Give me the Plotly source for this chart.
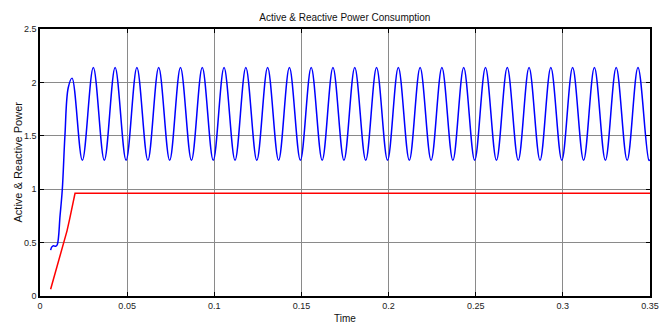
import plotly.graph_objects as go

# Active power (blue) sampled at read points: start-up, then peaks/troughs
active_t = [0.0061, 0.0068, 0.0078, 0.0090, 0.0099, 0.0115, 0.0128, 0.0143, 0.0162, 0.0184,
            0.0243, 0.0306, 0.0369, 0.0431, 0.0494, 0.0556, 0.0619, 0.0681, 0.0744, 0.0806,
            0.0869, 0.0931, 0.0994, 0.1056, 0.1119, 0.1181, 0.1244, 0.1306, 0.1369, 0.1431,
            0.1494, 0.1556, 0.1619, 0.1681, 0.1744, 0.1806, 0.1869, 0.1931, 0.1994, 0.2056,
            0.2119, 0.2181, 0.2244, 0.2306, 0.2369, 0.2431, 0.2494, 0.2556, 0.2619, 0.2681,
            0.2744, 0.2806, 0.2869, 0.2931, 0.2994, 0.3056, 0.3119, 0.3181, 0.3244, 0.3306,
            0.3369, 0.3431, 0.3494, 0.3500]
active_v = [0.43, 0.46, 0.47, 0.465, 0.48, 0.75, 1.00, 1.50, 1.95, 2.04,
            1.27, 2.14, 1.27, 2.14, 1.27, 2.14, 1.27, 2.14, 1.27, 2.14,
            1.27, 2.14, 1.27, 2.14, 1.27, 2.14, 1.27, 2.14, 1.27, 2.14,
            1.27, 2.14, 1.27, 2.14, 1.27, 2.14, 1.27, 2.14, 1.27, 2.14,
            1.27, 2.14, 1.27, 2.14, 1.27, 2.14, 1.27, 2.14, 1.27, 2.14,
            1.27, 2.14, 1.27, 2.14, 1.27, 2.14, 1.27, 2.14, 1.27, 2.14,
            1.27, 2.14, 1.27, 1.275]

# Reactive power (red)
reactive_t = [0.0061, 0.0080, 0.0100, 0.0120, 0.0138, 0.0155, 0.0170, 0.0186, 0.0201, 0.3500]
reactive_v = [0.063, 0.17, 0.28, 0.39, 0.50, 0.61, 0.72, 0.84, 0.962, 0.962]

x_ticks = [0, 0.05, 0.1, 0.15, 0.2, 0.25, 0.3, 0.35]
x_tick_labels = ["0", "0.05", "0.1", "0.15", "0.2", "0.25", "0.3", "0.35"]
y_ticks = [0, 0.5, 1, 1.5, 2, 2.5]
y_tick_labels = ["0", "0.5", "1", "1.5", "2", "2.5"]

fig = go.Figure()
fig.add_trace(go.Scatter(x=active_t, y=active_v, mode="lines",
                         line=dict(color="#0000FF", width=1.5, shape="spline", smoothing=1.0),
                         showlegend=False))
fig.add_trace(go.Scatter(x=reactive_t, y=reactive_v, mode="lines",
                         line=dict(color="#FF0000", width=1.5),
                         showlegend=False))

narrow = "Liberation Sans Narrow, Arial Narrow, Liberation Sans, Arial"
axis_common = dict(showline=True, linecolor="black", linewidth=1.5, mirror="ticks",
                   ticks="inside", ticklen=4, tickcolor="black", tickwidth=1,
                   showgrid=True, gridcolor="#8a8a8a", gridwidth=1, zeroline=False,
                   automargin=False,
                   tickfont=dict(family=narrow, size=9, color="#222"))

fig.update_layout(
    width=667, height=324,
    margin=dict(l=40, r=17, t=29, b=28),
    paper_bgcolor="white", plot_bgcolor="white",
    title=dict(text="Active & Reactive Power Consumption", x=0.517, xanchor="center",
               y=1 - 17 / 324, yanchor="middle", yref="container",
               font=dict(family=narrow, size=10, color="#111")),
)
fig.update_xaxes(range=[0, 0.35], tickvals=x_ticks, ticktext=x_tick_labels,
                 title=dict(text="Time", font=dict(family=narrow, size=10, color="#111")),
                 **axis_common)
fig.update_yaxes(range=[0, 2.5], tickvals=y_ticks, ticktext=y_tick_labels, **axis_common)

fig.add_annotation(text="Active & Reactive Power", textangle=-90,
                   xref="paper", yref="paper", x=(17 - 40) / 610, y=0.5,
                   xanchor="center", yanchor="middle", showarrow=False,
                   font=dict(family="Liberation Sans, Arial", size=11, color="#111"))

fig.write_html("out.html")
